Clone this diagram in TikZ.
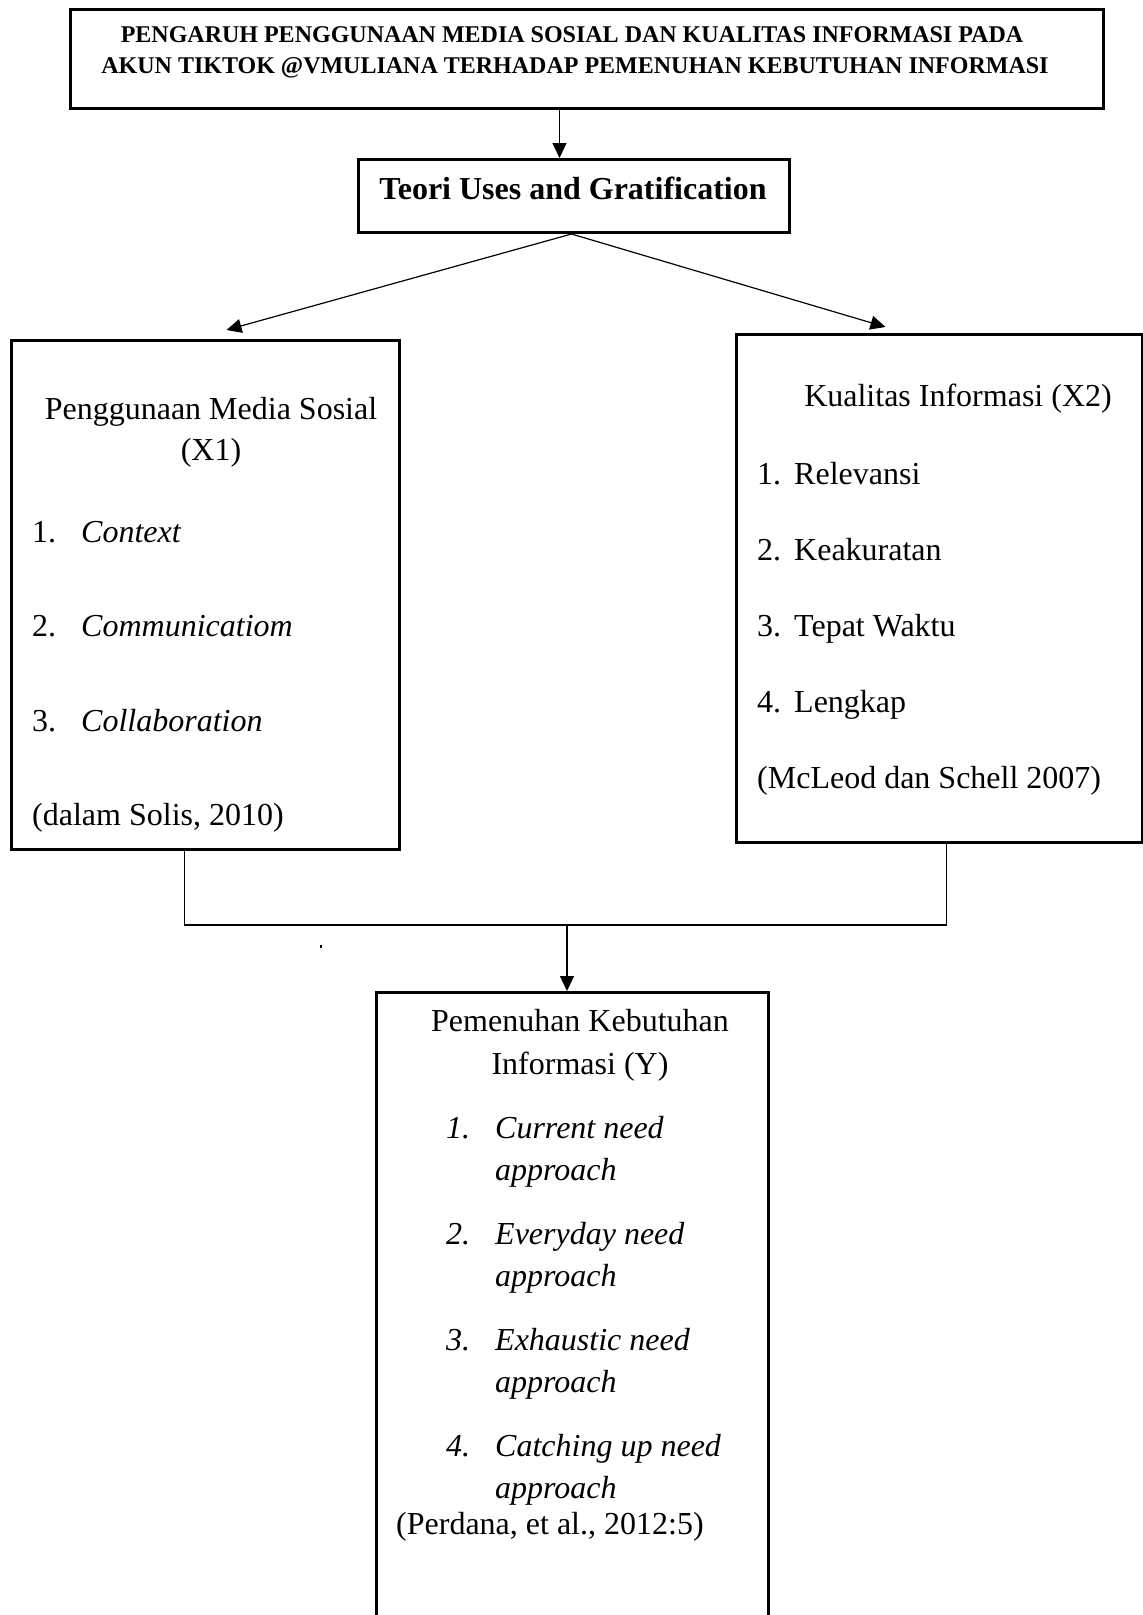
\documentclass[tikz,border=0pt]{standalone}
\usepackage{fontspec}
\setmainfont{Liberation Serif}
\usetikzlibrary{arrows.meta,calc}
\newcommand{\bodyfont}{\fontsize{32}{42}\selectfont}
\newcommand{\headfont}{\fontsize{24}{31}\selectfont\bfseries}
% a framed box given by its top left corner, width and height
\newcommand{\frambox}[5]{
   \node[frame, minimum width=#4pt, minimum height=#5pt, anchor=north west]
   (#1) at (#2,#3) {};
}
\tikzset{
   frame/.style={draw, line width=3pt, inner sep=0pt},
   txt/.style={inner sep=0pt, anchor=base west, font=\bodyfont},
   ctxt/.style={inner sep=0pt, anchor=base, font=\bodyfont},
   link/.style={line width=1.2pt},
   arr/.style={link, -{Triangle[length=15pt,width=14pt]}}
}

\begin{document}
\begin{tikzpicture}[x=1pt, y=-1pt]
    \useasboundingbox (0,0) rectangle (1143,1615);
    \frambox{title}{69}{8}{1033}{99}
    \frambox{teori}{357}{158}{431}{73}
    \frambox{media}{10}{339}{388}{509}
    \frambox{kualitas}{735}{333}{406}{508}
    \frambox{kebutuhan}{375}{991}{392}{640}
    %title
    \node[ctxt, font=\headfont] (judul1) at (572,42)
       {PENGARUH PENGGUNAAN MEDIA SOSIAL DAN KUALITAS INFORMASI PADA};
    \node[ctxt, font=\headfont] (judul2) at (575,73)
       {AKUN TIKTOK @VMULIANA TERHADAP PEMENUHAN KEBUTUHAN INFORMASI};
    \node[ctxt, font=\bodyfont\bfseries] (teoritxt) at (573,199)
       {Teori Uses and Gratification};
    %X1
    \node[ctxt] (x1head) at (211,419) {Penggunaan Media Sosial};
    \node[ctxt] (x1var) at (211,460) {(X1)};
    \foreach \n/\t/\y in {1/Context/542, 2/Communicatiom/636, 3/Collaboration/731}{
       \node[txt] (x1num\n) at (32,\y) {\n.};
       \node[txt] (x1item\n) at (81,\y) {\textit{\t}};
    }
    \node[txt] (x1src) at (32,825) {(dalam Solis, 2010)};
    %X2
    \node[ctxt] (x2head) at (958,406) {Kualitas Informasi (X2)};
    \foreach \n/\t/\y in {1/Relevansi/484, 2/Keakuratan/560, 3/Tepat Waktu/636, 4/Lengkap/712}{
       \node[txt] (x2num\n) at (757,\y) {\n.};
       \node[txt] (x2item\n) at (794,\y) {\t};
    }
    \node[txt] (x2src) at (757,788) {(McLeod dan Schell 2007)};
    %Y
    \node[ctxt] (yhead) at (580,1031) {Pemenuhan Kebutuhan};
    \node[ctxt] (yvar) at (580,1074) {Informasi (Y)};
    \foreach \n/\t/\y in {1/Current need/1138, 2/Everyday need/1244, 3/Exhaustic need/1350, 4/Catching up need/1456}{
       \node[txt] (ynum\n) at (446,\y) {\textit{\n.}};
       \node[txt] (yitem\n) at (495,\y) {\textit{\t}};
       \node[txt] (yappr\n) at (495,\y+42) {\textit{approach}};
    }
    \node[txt] (ysrc) at (396,1534) {(Perdana, et al., 2012:5)};
    \node[fill, inner sep=0pt, minimum width=1.2pt, minimum height=3pt] (stray) at (321,946) {};
    %connectors
    \draw[arr] ([xshift=-27.5pt]title.south) -- ([xshift=-14.5pt]teori.north);
    \coordinate (split) at ([xshift=-2.5pt]teori.south);
    \coordinate (tipL) at ([shift={(21pt,9pt)}]media.north);
    \coordinate (tipR) at ([shift={(-54pt,6pt)}]kualitas.north);
    \draw[arr] (split) -- (tipL);
    \draw[arr] (split) -- (tipR);
    \coordinate (join) at (567,925);
    \draw[link] ([xshift=-21pt]media.south) |- ([xshift=7pt]kualitas.south |- join)
       -- ([xshift=7pt]kualitas.south);
    \draw[arr] (join) -- (kebutuhan.north -| join);
\end{tikzpicture}
\end{document}
